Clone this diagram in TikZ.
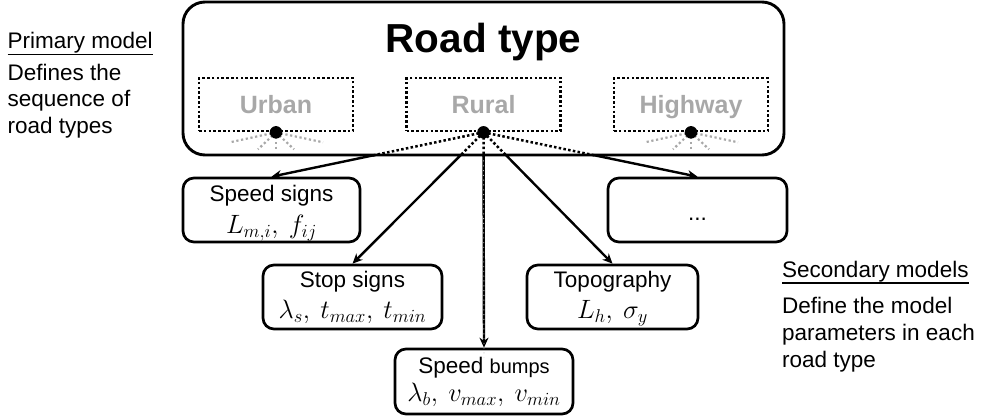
\RequirePackage{fix-cm}
\documentclass[tikz,border=0pt]{standalone}
\usepackage{fontspec}
\setmainfont{Liberation Sans}
\usetikzlibrary{arrows.meta}

\definecolor{softgray}{RGB}{168,168,168}

\tikzset{
  mainbox/.style={draw, line width=2.9pt, rounded corners=22pt, inner sep=0pt},
  typebox/.style={draw, line width=2.6pt, dash pattern=on 2.6pt off 2.2pt,
    minimum width=154pt, minimum height=53pt, inner sep=0pt,
    text height=18pt, text depth=0pt, text=softgray,
    font=\fontsize{25pt}{28pt}\selectfont\bfseries},
  parbox/.style={draw, line width=2.7pt, rounded corners=11pt, inner sep=0pt,
    minimum height=64pt},
  boxtext/.style={inner sep=0pt, anchor=base, font=\fontsize{22.5pt}{27pt}\selectfont},
  mathtext/.style={inner sep=0pt, anchor=base, font=\fontsize{26.5pt}{30pt}\selectfont},
  sidetext/.style={inner sep=0pt, anchor=base west, font=\fontsize{22.5pt}{27pt}\selectfont},
  conn/.style={line width=2.4pt, -{Stealth[length=10pt, width=9pt]}},
  dotconn/.style={line width=2.5pt, dash pattern=on 2.5pt off 2.3pt},
  grayray/.style={line width=2.2pt, softgray, dash pattern=on 2.2pt off 2.6pt},
  hub/.style={circle, fill=black, inner sep=0pt, minimum size=12.5pt},
}

\begin{document}
\begin{tikzpicture}[x=1pt, y=-1pt]
\useasboundingbox (0,0) rectangle (993,416);

% primary model: road type container
\node[mainbox, minimum width=601pt, minimum height=153pt] (rt) at (483.5,78.5) {};
\node[inner sep=0pt, anchor=base, font=\fontsize{40.5pt}{44pt}\selectfont\bfseries]
  (title) at (483.5,52) {Road type};

% road type states
\node[typebox] (urban) at (276,104.5) {Urban};
\node[typebox] (rural) at (483.5,104.5) {Rural};
\node[typebox] (highway) at (691,104.5) {Highway};

% secondary models
\node[parbox, minimum width=177pt] (ss) at (271.5,210) {};
\node[parbox, minimum width=179pt] (dd) at (697.5,210) {};
\node[parbox, minimum width=179pt] (st) at (352.5,297) {};
\node[parbox, minimum width=171pt] (tp) at (612.5,297) {};
\node[parbox, minimum width=178pt, minimum height=65pt] (sb) at (484,381.5) {};

\path (ss.north) ++(0,25) node[boxtext] (ssA) {Speed signs};
\path (ss.north) ++(0,57) node[mathtext] (ssB) {$L_{m,i},\: f_{ij}$};
\path (dd.center) ++(0,10) node[boxtext] (ddA) {...};
\path (st.north) ++(0,23.5) node[boxtext] (stA) {Stop signs};
\path (st.north) ++(0,55) node[mathtext] (stB) {$\lambda_s,\: t_{max},\: t_{min}$};
\path (tp.north) ++(0,23.5) node[boxtext] (tpA) {Topography};
\path (tp.north) ++(0,55) node[mathtext] (tpB) {$L_h,\: \sigma_y$};
\path (sb.north) ++(0,26) node[boxtext] (sbA)
  {Speed {\fontsize{20pt}{24pt}\selectfont bumps}};
\path (sb.north) ++(0,53.5) node[mathtext] (sbB) {$\lambda_b,\: v_{max},\: v_{min}$};

% hubs at the bottom of each state
\coordinate (hu) at (urban.south);
\coordinate (hr) at (rural.south);
\coordinate (hh) at (highway.south);

% faint fans of the inactive states
\foreach \h in {hu,hh}{
  \draw[grayray] (\h) -- ++(-46,10);
  \draw[grayray] (\h) -- ++(-18,17);
  \draw[grayray] (\h) -- ++(0,19);
  \draw[grayray] (\h) -- ++(18,17);
  \draw[grayray] (\h) -- ++(47,10);
}

% connectors from the active state: dotted inside the container, solid outside
\begin{scope}
  \clip (rt.south west) rectangle (993,416);
  \foreach \t in {ss,st,sb,tp,dd}
    \draw[conn] (hr) -- (\t.north);
\end{scope}
\begin{scope}
  \clip (rt.north west) rectangle (rt.south east);
  \foreach \t in {ss,st,sb,tp,dd}
    \draw[dotconn] (hr) -- (\t.north);
\end{scope}
% the straight drop keeps a faint dotted grain
\draw[line width=0.9pt, white!70!black, dash pattern=on 1pt off 3.8pt] (rt.south) ++(0,4) -- ([yshift=-10pt]sb.north);

\node[hub] (du) at (hu) {};
\node[hub] (dr) at (hr) {};
\node[hub] (dh) at (hh) {};

% side notes
\node[sidetext] (pm) at (7.5,48) {Primary model};
\draw[line width=1.4pt] ([yshift=-6.5pt]pm.base west) -- ([yshift=-6.5pt]pm.base east);
\node[sidetext] (pm1) at (7.5,80) {Defines the};
\node[sidetext] (pm2) at (7.5,106.5) {sequence of};
\node[sidetext] (pm3) at (7.5,133) {road types};

\node[sidetext] (sm) at (782,277) {Secondary models};
\draw[line width=1.4pt] ([yshift=-6pt]sm.base west) -- ([yshift=-6pt]sm.base east);
\node[sidetext] (sm1) at (782,313) {Define the model};
\node[sidetext] (sm2) at (782,340) {parameters in each};
\node[sidetext] (sm3) at (782,367) {road type};
\end{tikzpicture}
\end{document}
